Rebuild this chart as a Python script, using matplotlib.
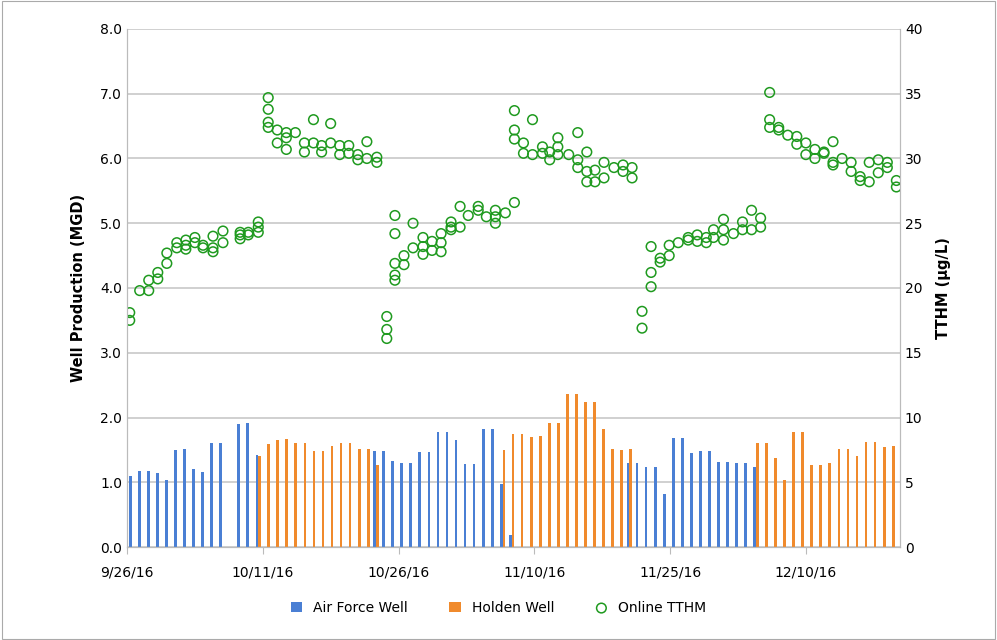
import numpy as np
import matplotlib.pyplot as plt

# days counted from 9/26/16
tick_days = [0, 15, 30, 45, 60, 75]
tick_labels = ["9/26/16", "10/11/16", "10/26/16", "11/10/16", "11/25/16", "12/10/16"]

air_force_days = [0, 1, 2, 3, 4, 5, 6, 7, 8, 9, 10, 12, 13, 14, 27, 28, 29, 30, 31, 32, 33,
                  34, 35, 36, 37, 38, 39, 40, 41, 42, 55, 56, 57, 58, 59, 60, 61, 62, 63,
                  64, 65, 66, 67, 68, 69]
air_force_mgd = [1.09, 1.18, 1.18, 1.14, 1.04, 1.50, 1.51, 1.20, 1.16, 1.61, 1.61, 1.90, 1.91,
                 1.42, 1.49, 1.49, 1.33, 1.29, 1.29, 1.47, 1.47, 1.78, 1.78, 1.65, 1.28, 1.28,
                 1.82, 1.83, 0.98, 0.18, 1.29, 1.29, 1.24, 1.24, 0.82, 1.69, 1.69, 1.45, 1.49,
                 1.49, 1.31, 1.31, 1.29, 1.29, 1.24]

holden_days = [14, 15, 16, 17, 18, 19, 20, 21, 22, 23, 24, 25, 26, 27, 41, 42, 43, 44, 45,
               46, 47, 48, 49, 50, 51, 52, 53, 54, 55, 69, 70, 71, 72, 73, 74, 75, 76, 77,
               78, 79, 80, 81, 82, 83, 84]
holden_mgd = [1.40, 1.59, 1.66, 1.67, 1.60, 1.60, 1.49, 1.49, 1.56, 1.60, 1.60, 1.52, 1.52,
              1.27, 1.50, 1.74, 1.74, 1.70, 1.71, 1.91, 1.92, 2.37, 2.37, 2.24, 2.24, 1.82,
              1.52, 1.50, 1.51, 1.60, 1.60, 1.37, 1.04, 1.77, 1.78, 1.27, 1.27, 1.30, 1.51,
              1.51, 1.40, 1.62, 1.62, 1.55, 1.56]

tthm_days = [0.3, 0.3, 1.4, 2.4, 2.4, 3.4, 3.4, 4.4, 4.4, 5.5, 5.5, 6.5, 6.5, 6.5, 7.5, 7.5,
             8.4, 8.4, 9.5, 9.5, 9.5, 10.6, 10.6, 12.5, 12.5, 12.5, 13.4, 13.4, 14.5, 14.5, 14.5,
             15.6, 15.6, 15.6, 15.6, 16.6, 16.6, 17.6, 17.6, 17.6, 18.6, 19.6, 19.6, 20.6, 20.6,
             21.5, 21.5, 22.5, 22.5, 23.5, 23.5, 24.5, 24.5, 25.5, 25.5, 26.5, 26.5, 27.6, 27.6,
             28.7, 28.7, 28.7, 29.6, 29.6, 29.6, 29.6, 29.6, 30.6, 30.6, 31.6, 31.6, 32.7, 32.7,
             32.7, 33.7, 33.7, 34.7, 34.7, 34.7, 35.8, 35.8, 35.8, 36.8, 36.8, 37.7, 38.8, 38.8,
             39.7, 40.7, 40.7, 40.7, 41.8, 42.8,
             42.8, 42.8, 42.8, 43.8, 43.8, 44.8, 44.8, 45.9, 45.9, 46.7, 46.7, 47.6, 47.6, 47.6,
             48.8, 49.8, 49.8, 49.8, 50.8, 50.8, 50.8, 51.7, 51.7, 52.7, 52.7, 53.8, 54.8, 54.8,
             55.8, 55.8,
             56.9, 56.9, 57.9, 57.9, 57.9, 58.9, 58.9, 59.9, 59.9, 60.9, 62, 62, 63, 63, 64, 64,
             64.8, 64.8, 65.9, 65.9, 65.9, 67, 68, 68, 69, 69, 70, 70,
             71, 71, 71, 72, 72, 73, 74, 74, 75, 75, 76, 76, 77, 77, 78, 78, 78, 79, 80, 80,
             81, 81, 82, 82, 83, 83, 84, 84, 85, 85]
tthm_ugl = [18.1, 17.5, 19.8, 20.6, 19.8, 21.2, 20.7, 22.7, 21.9, 23.5, 23.1, 23.7, 23.3, 23.0,
            23.9, 23.5, 23.3, 23.1, 24.0, 23.1, 22.8, 24.4, 23.5, 24.3, 24.1, 23.8, 24.3, 24.1,
            25.1, 24.7, 24.3,
            34.7, 33.8, 32.8, 32.4, 32.2, 31.2, 32.0, 31.6, 30.7, 32.0, 31.2, 30.5, 33.0, 31.2,
            31.0, 30.5, 32.7, 31.2, 31.0, 30.3, 31.0, 30.4, 30.3, 29.9, 31.3, 30.0, 30.1, 29.7,
            17.8, 16.8, 16.1, 25.6, 24.2, 21.9, 21.0, 20.6, 22.5, 21.8, 25.0, 23.1, 23.9, 23.2,
            22.6, 23.6, 22.9, 24.2, 23.5, 22.8, 25.1, 24.7, 24.5, 24.7, 26.3, 25.6, 26.3, 26.0,
            25.5, 26.0, 25.5, 25.0, 25.8, 26.6,
            33.7, 32.2, 31.5, 31.2, 30.4, 33.0, 30.3, 30.9, 30.4, 30.5, 29.9, 31.6, 30.9, 30.3,
            30.3, 32.0, 29.9, 29.3, 30.5, 29.0, 28.2, 29.1, 28.2, 29.7, 28.5, 29.3, 29.5, 29.0,
            29.3, 28.5,
            18.2, 16.9, 23.2, 21.2, 20.1, 22.3, 22.0, 23.3, 22.5, 23.5, 23.9, 23.7, 24.1, 23.6,
            23.9, 23.5, 24.5, 23.9, 25.3, 24.5, 23.7, 24.2, 25.1, 24.5, 26.0, 24.5, 25.4, 24.7,
            35.1, 33.0, 32.4, 32.4, 32.2, 31.8, 31.7, 31.1, 31.2, 30.3, 30.7, 30.0, 30.5, 30.4,
            31.3, 29.7, 29.5, 30.0, 29.7, 29.0, 28.6, 28.3, 29.7, 28.2, 29.9, 28.9, 29.7, 29.3,
            28.3, 27.8]

blue = "#4a7fd4"
orange = "#f08a2c"
green = "#1f9a1f"

fig = plt.figure(figsize=(9.97, 6.4), dpi=100)
fig.patches.append(plt.Rectangle((0.002, 0.002), 0.996, 0.996, transform=fig.transFigure,
                                 fill=False, edgecolor="#aaaaaa", linewidth=0.8))
ax = fig.add_axes([0.1274, 0.1453, 0.7753, 0.8094])
ax2 = ax.twinx()

b1 = ax.bar(np.array(air_force_days) + 0.35, air_force_mgd, width=0.3, color=blue,
            label="Air Force Well")
b2 = ax.bar(np.array(holden_days) + 0.65, holden_mgd, width=0.3, color=orange,
            label="Holden Well")
sc = ax2.scatter(tthm_days, tthm_ugl, s=48, facecolors="none",
                 edgecolors=green, linewidths=1.1, label="Online TTHM")

ax.set_xlim(0, 85.4)
ax.set_ylim(0, 8)
ax2.set_ylim(0, 40)
ax.set_yticks(np.arange(0, 8.1, 1.0))
ax.set_yticklabels([f"{v:.1f}" for v in np.arange(0, 8.1, 1.0)])
ax2.set_yticks(np.arange(0, 41, 5))
ax.set_xticks(tick_days)
ax.set_xticklabels(tick_labels)
ax.grid(axis="y", color="#c8c8c8", linewidth=1.2)
ax.set_axisbelow(True)

for a in (ax, ax2):
    for s in a.spines.values():
        s.set_color("#bbbbbb")
    a.spines["top"].set_visible(False)
    a.tick_params(labelsize=10, color="#bbbbbb", length=0)
ax.tick_params(axis="x", length=5, direction="out", pad=8)

ax.set_ylabel("Well Production (MGD)", fontsize=10.5, fontweight="bold", labelpad=10)
ax2.set_ylabel("TTHM (\u00b5g/L)", fontsize=10.5, fontweight="bold", labelpad=10)

fig.legend(handles=[b1, b2, sc], loc="lower center", ncol=3, frameon=False,
           bbox_to_anchor=(0.5, 0.02), fontsize=10, handlelength=0.8, columnspacing=3)

fig.savefig("out.png", dpi=100)
